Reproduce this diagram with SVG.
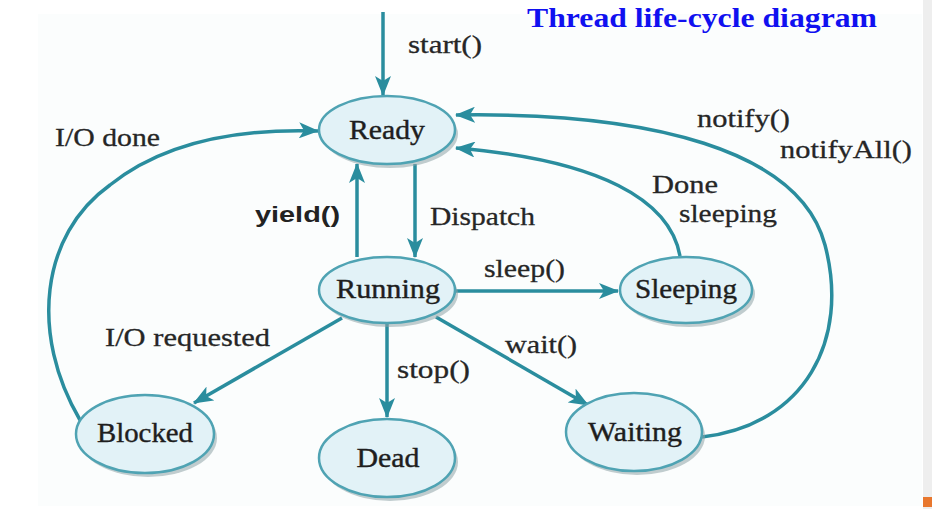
<svg xmlns="http://www.w3.org/2000/svg" width="932" height="509" viewBox="0 0 932 509">
<defs>
<style>
.node ellipse.fill{fill:#e2f2f7;stroke:#4fa3b3;stroke-width:2.5}
.node ellipse.shadow{fill:#8fa4a8;opacity:0.55}
.node text{font-family:"Liberation Serif","Times New Roman",serif;font-size:27px;fill:#1e1e1e;stroke:#1e1e1e;stroke-width:0.4;text-anchor:middle}
.lbl{font-family:"Liberation Serif","Times New Roman",serif;font-size:26px;fill:#262626;stroke:#262626;stroke-width:0.3}
.edge{fill:none;stroke:#2a8d9e;stroke-width:3.5}
</style>
<marker id="arr" viewBox="0 0 20 16" refX="19" refY="8" markerWidth="20" markerHeight="16" markerUnits="userSpaceOnUse" orient="auto">
<path d="M0,0 L20,8 L0,16 L5,8 Z" fill="#2a8d9e"/>
</marker>
</defs>
<rect x="0" y="0" width="932" height="509" fill="#ffffff"/>
<rect x="38" y="14" width="884" height="492" fill="#fbfdfd"/>
<rect x="923" y="0" width="9" height="509" fill="#eeeeee"/>
<rect x="923" y="497" width="9" height="10" fill="#e8772e"/>

<text x="527" y="27" font-family="Liberation Serif, Times New Roman, serif" font-size="28" font-weight="bold" fill="#1010f0" textLength="350" lengthAdjust="spacingAndGlyphs">Thread life-cycle diagram</text>

<g id="connectors">
<path class="edge" d="M383,12 L383,95" marker-end="url(#arr)"/>
<path class="edge" d="M415,164 L415,257" marker-end="url(#arr)"/>
<path class="edge" d="M357,257 L357,164" marker-end="url(#arr)"/>
<path class="edge" d="M456,291 L618,291" marker-end="url(#arr)"/>
<path class="edge" d="M680,256 C 670,200 600,160 456,148" marker-end="url(#arr)"/>
<path class="edge" d="M702,437 C 805,425 850,340 825,245 C 800,150 650,112 456,115" marker-end="url(#arr)"/>
<path class="edge" d="M80,420 C 30,335 40,235 110,185 C 160,145 230,128 318,131" marker-end="url(#arr)"/>
<path class="edge" d="M342,318 L194,403" marker-end="url(#arr)"/>
<path class="edge" d="M387,323 L387,417" marker-end="url(#arr)"/>
<path class="edge" d="M436,317 L588,405" marker-end="url(#arr)"/>
</g>

<g id="node-ready" class="node">
<ellipse class="shadow" cx="390" cy="134" rx="68" ry="34"/>
<ellipse class="fill" cx="387" cy="130" rx="68" ry="34"/>
<text x="387" y="139" textLength="76" lengthAdjust="spacingAndGlyphs">Ready</text>
</g>
<g id="node-running" class="node">
<ellipse class="shadow" cx="390" cy="294" rx="68" ry="33"/>
<ellipse class="fill" cx="387" cy="290" rx="68" ry="33"/>
<text x="388" y="298" textLength="104" lengthAdjust="spacingAndGlyphs">Running</text>
</g>
<g id="node-sleeping" class="node">
<ellipse class="shadow" cx="689" cy="294" rx="66" ry="33"/>
<ellipse class="fill" cx="686" cy="290" rx="66" ry="33"/>
<text x="686" y="298" textLength="102" lengthAdjust="spacingAndGlyphs">Sleeping</text>
</g>
<g id="node-blocked" class="node">
<ellipse class="shadow" cx="148" cy="438" rx="69" ry="39"/>
<ellipse class="fill" cx="145" cy="434" rx="69" ry="39"/>
<text x="145" y="442" textLength="96" lengthAdjust="spacingAndGlyphs">Blocked</text>
</g>
<g id="node-dead" class="node">
<ellipse class="shadow" cx="390" cy="462" rx="68" ry="39"/>
<ellipse class="fill" cx="387" cy="458" rx="68" ry="39"/>
<text x="388" y="467" textLength="63" lengthAdjust="spacingAndGlyphs">Dead</text>
</g>
<g id="node-waiting" class="node">
<ellipse class="shadow" cx="637" cy="436" rx="68" ry="39"/>
<ellipse class="fill" cx="634" cy="432" rx="68" ry="39"/>
<text x="635" y="441" textLength="94" lengthAdjust="spacingAndGlyphs">Waiting</text>
</g>

<g id="labels">
<text class="lbl" x="408" y="53" textLength="74" lengthAdjust="spacingAndGlyphs">start()</text>
<text class="lbl" x="55" y="146" textLength="105" lengthAdjust="spacingAndGlyphs">I/O done</text>
<text x="255" y="222" font-family="Liberation Sans, Arial, sans-serif" font-weight="bold" font-size="22" fill="#222" textLength="85" lengthAdjust="spacingAndGlyphs">yield()</text>
<text class="lbl" x="430" y="225" textLength="105" lengthAdjust="spacingAndGlyphs">Dispatch</text>
<text class="lbl" x="484" y="277" textLength="81" lengthAdjust="spacingAndGlyphs">sleep()</text>
<text class="lbl" x="652" y="193" textLength="66" lengthAdjust="spacingAndGlyphs">Done</text>
<text class="lbl" x="679" y="222" textLength="98" lengthAdjust="spacingAndGlyphs">sleeping</text>
<text class="lbl" x="697" y="127" textLength="93" lengthAdjust="spacingAndGlyphs">notify()</text>
<text class="lbl" x="780" y="158" textLength="132" lengthAdjust="spacingAndGlyphs">notifyAll()</text>
<text class="lbl" x="105" y="346" textLength="165" lengthAdjust="spacingAndGlyphs">I/O requested</text>
<text class="lbl" x="397" y="378" textLength="73" lengthAdjust="spacingAndGlyphs">stop()</text>
<text class="lbl" x="505" y="353" textLength="72" lengthAdjust="spacingAndGlyphs">wait()</text>
</g>
</svg>
